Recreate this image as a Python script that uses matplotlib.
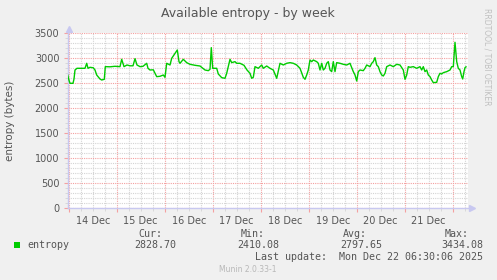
import matplotlib
matplotlib.use("Agg")
import matplotlib.pyplot as plt
from matplotlib.ticker import MultipleLocator, FixedLocator

# hours since 14 Dec 00:00
hours = [-0.5, 0.15, 0.65, 2.15, 2.65, 3.15, 4.15, 8.15, 9, 9.65, 10.65, 12.3, 13.15, 14, 15.65, 16.5,
         17.8, 18.3, 20.65, 23.15, 25.65, 26.5, 27.65, 29.15, 30.65, 32.15, 33.15, 34.15, 35.65, 37.15,
         39, 39.65, 40.65, 42.3, 44, 45.65, 47.3, 48.15, 49, 50.65, 51.5, 53.15, 54.3, 55.15, 55.65,
         57.3, 59, 60.65, 63.15, 65.65, 68.15, 69.8, 70.65, 71.3, 72, 74, 74.8, 76.5, 78.15, 79, 80.65,
         81.5, 83.15, 84, 85.65, 87.65, 89.15, 90.65, 91.5, 92.3, 93.15, 94.8, 96.5, 97.3, 99, 100.65,
         102.3, 104, 105.65, 107.3, 109, 110.65, 112.3, 114, 115.65, 117.3, 118.15, 119, 119.8, 120.65,
         121.5, 122.3, 124, 124.8, 125.65, 126.5, 127.3, 128.15, 129, 129.8, 130.65, 131.5, 132.3,
         133.15, 134, 135.65, 137.3, 139, 140.65, 142.3, 143.15, 144, 144.8, 145.65, 147.3, 148.15, 149,
         150.65, 151.5, 152.3, 153.15, 154, 154.8, 155.65, 156.5, 157.3, 158.15, 159, 160.65, 162.3,
         164, 165.65, 167.3, 168.15, 169, 169.8, 170.65, 172.3, 174, 175.65, 176.5, 177.3, 178.15, 179,
         179.8, 180.65, 181.5, 182.3, 184, 184.8, 185.65, 186.5, 187.3, 189, 190.65, 191.5, 192.3,
         193.15, 194, 194.8, 195.65, 196.5, 197, 197.65, 198.15, 198.65]
entropy = [2666, 2560, 2500, 2500, 2586, 2766, 2800, 2800, 2900, 2800, 2820, 2810, 2766, 2666, 2586, 2566,
           2580, 2833, 2830, 2840, 2833, 2980, 2833, 2866, 2850, 2850, 2993, 2866, 2833, 2840,
           2900, 2800, 2766, 2770, 2633, 2640, 2666, 2620, 2900, 2866, 3000, 3100, 3166, 2933, 2900,
           2980, 2913, 2880, 2860, 2846, 2766, 2753, 2780, 3213, 2800, 2800, 2686, 2613, 2600, 2700, 2980,
           2913, 2933, 2900, 2900, 2860, 2766, 2700, 2600, 2620, 2833, 2800, 2866, 2800, 2846, 2800,
           2766, 2600, 2900, 2866, 2900, 2913, 2900, 2866, 2800, 2620, 2580, 2666, 2766, 2966,
           2933, 2966, 2933, 2900, 2766, 2900, 2766, 2800, 2900, 2933, 2766, 2733, 2933,
           2733, 2913, 2900, 2880, 2866, 2900, 2733, 2666, 2546, 2733, 2766, 2753, 2800, 2866,
           2833, 2900, 2933, 3013, 2866, 2833, 2733, 2666, 2646, 2700, 2833, 2866, 2833,
           2880, 2866, 2766, 2580, 2666, 2833, 2820, 2833, 2800, 2833, 2766, 2833, 2733, 2766,
           2666, 2633, 2566, 2513, 2520, 2633, 2700, 2686, 2713, 2733, 2766, 2833, 2833,
           3320, 2933, 2800, 2766, 2633, 2586, 2733, 2813, 2829]

day_labels = ["14 Dec", "15 Dec", "16 Dec", "17 Dec", "18 Dec", "19 Dec", "20 Dec", "21 Dec"]
y_ticks = [0, 500, 1000, 1500, 2000, 2500, 3000, 3500]
legend_cols = ["Cur:", "Min:", "Avg:", "Max:"]
legend_vals = ["2828.70", "2410.08", "2797.65", "3434.08"]

W, H = 497, 280
fig = plt.figure(figsize=(W / 100, H / 100), dpi=100, facecolor="#F0F0F0")
x0, x1 = 67.7, 468.3
ytop, ybot = 33.3, 208.3
ax = fig.add_axes([x0 / W, 1 - ybot / H, (x1 - x0) / W, (ybot - ytop) / H])
ax.set_facecolor("white")

text_c = "#555555"
major_c = "#F4A0A0"
minor_c = "#D4D4D4"
axis_c = "#C8C8F0"

ax.set_xlim(-0.5, 199.8)
ax.set_ylim(0, 3500)

# grid
ax.xaxis.set_major_locator(FixedLocator([24 * i for i in range(9)]))
ax.xaxis.set_minor_locator(MultipleLocator(6))
ax.yaxis.set_major_locator(FixedLocator(y_ticks))
ax.yaxis.set_minor_locator(MultipleLocator(100))
ax.grid(which="minor", color=minor_c, linestyle=(0, (1, 1)), linewidth=0.8)
ax.grid(which="major", color=major_c, linestyle=(0, (1, 1)), linewidth=0.8)
ax.set_axisbelow(True)

ax.plot(hours, entropy, color="#00CC00", linewidth=1.0, zorder=3)

ax.set_xticklabels([])
for i, lab in enumerate(day_labels):
    ax.text(12 + 24 * i, -0.045, lab, transform=ax.get_xaxis_transform(), ha="center", va="top",
            fontsize=7, color=text_c)
ax.set_yticklabels([str(v) for v in y_ticks], fontsize=7, color=text_c)
ax.tick_params(axis="x", which="major", length=3, color=major_c, pad=2)
ax.tick_params(axis="x", which="minor", length=2, color=minor_c)
ax.tick_params(axis="y", which="major", length=3, color=major_c, pad=3)
ax.tick_params(axis="y", which="minor", length=2, color=minor_c)

for s in ["top", "right"]:
    ax.spines[s].set_visible(False)
for s in ["left", "bottom"]:
    ax.spines[s].set_color(axis_c)
    ax.spines[s].set_linewidth(1.0)

# axis arrows
ax.plot([0.0025], [1.025], marker="^", color=axis_c, markersize=4, transform=ax.transAxes, clip_on=False)
ax.plot([1.01], [0], marker=">", color=axis_c, markersize=4, transform=ax.transAxes, clip_on=False)

fig.text(248 / W, 1 - 13 / H, "Available entropy - by week", ha="center", va="center",
         fontsize=9, color=text_c)
fig.text(10 / W, 1 - 121 / H, "entropy (bytes)", rotation=90, ha="center", va="center",
         fontsize=7.5, color=text_c)
fig.text(487 / W, 1 - 57 / H, "RRDTOOL / TOBI OETIKER", rotation=270, ha="center", va="center",
         fontsize=5.5, color="#C0C0C0")

# legend
mono = "DejaVu Sans Mono"
fig.patches.append(plt.Rectangle((14 / W, 1 - 248 / H), 6 / W, 6 / H, transform=fig.transFigure,
                                 facecolor="#00CC00", edgecolor="none"))
fig.text(27 / W, 1 - 245.5 / H, "entropy", ha="left", va="center", fontsize=7.2, family=mono, color=text_c)
col_right = [162, 265, 367, 469]
val_right = [176, 279, 382, 483]
for c, v, cr, vr in zip(legend_cols, legend_vals, col_right, val_right):
    fig.text(cr / W, 1 - 234 / H, c, ha="right", va="center", fontsize=7.2, family=mono, color=text_c)
    fig.text(vr / W, 1 - 245.5 / H, v, ha="right", va="center", fontsize=7.2, family=mono, color=text_c)
fig.text(483 / W, 1 - 257.5 / H, "Last update:  Mon Dec 22 06:30:06 2025", ha="right", va="center",
         fontsize=7.2, family=mono, color=text_c)
fig.text(248 / W, 1 - 269 / H, "Munin 2.0.33-1", ha="center", va="center", fontsize=5.5, color="#B8B8B8")

fig.savefig("out.png", dpi=100, facecolor=fig.get_facecolor())
